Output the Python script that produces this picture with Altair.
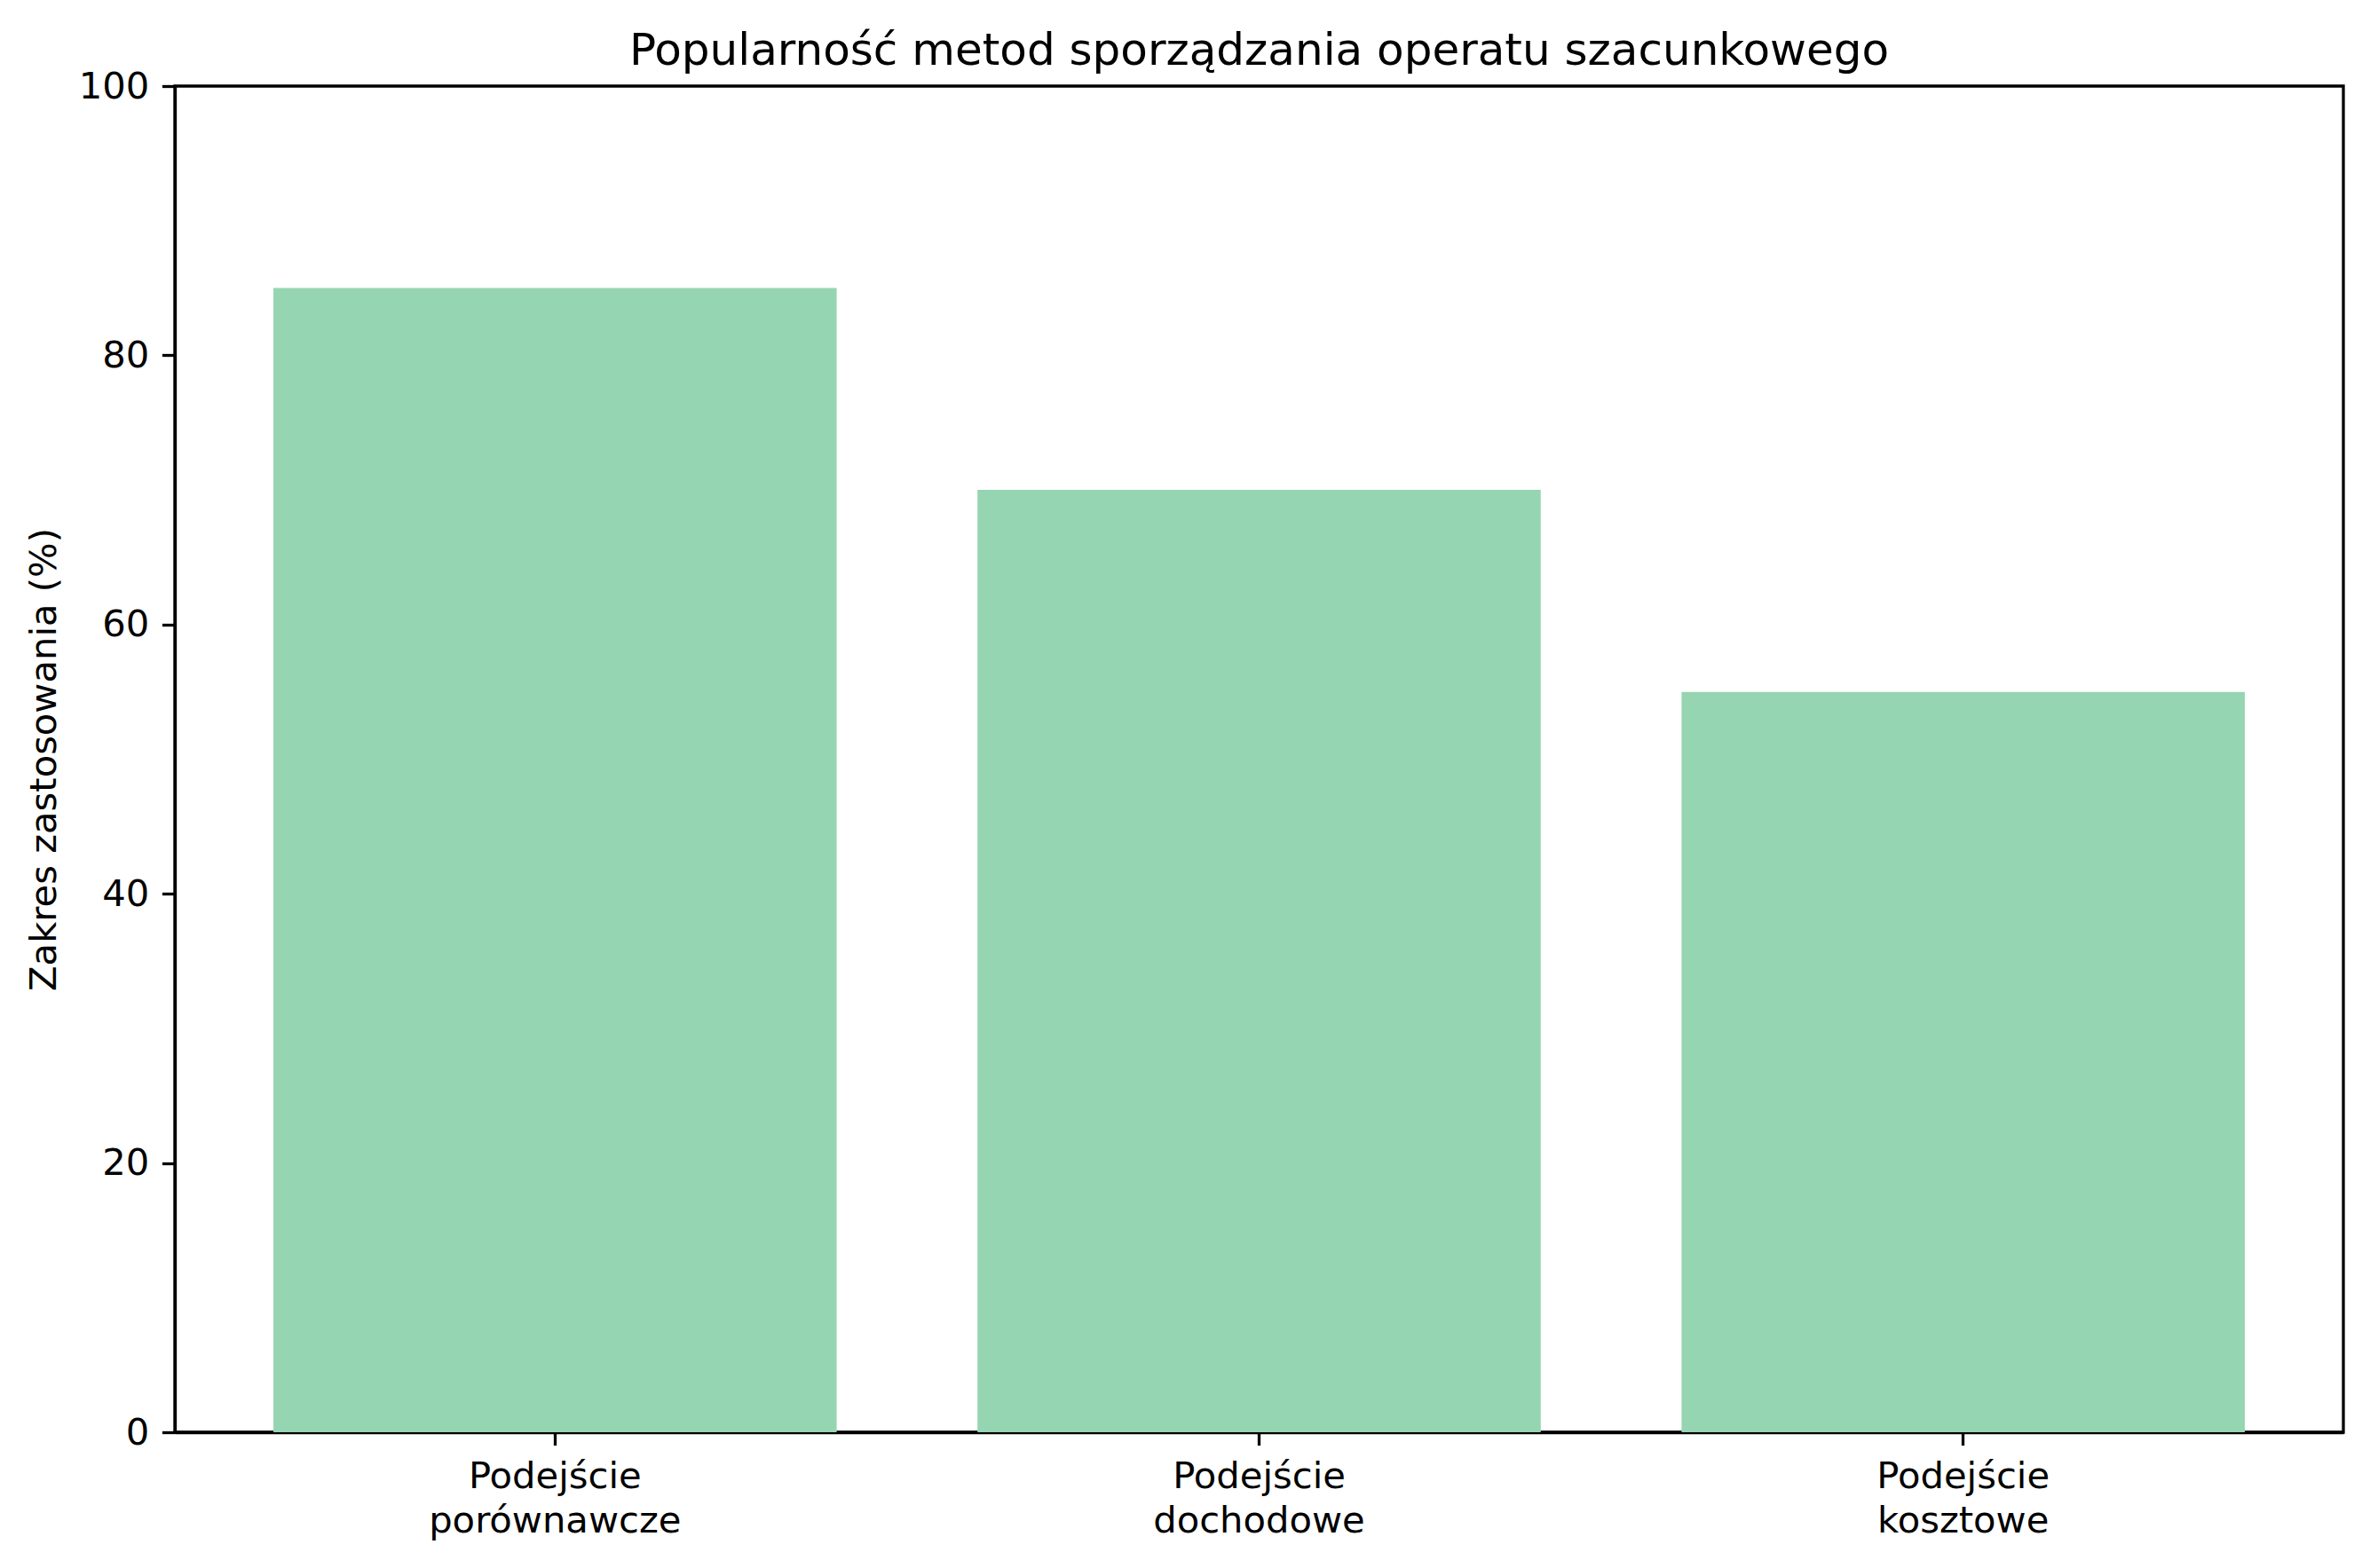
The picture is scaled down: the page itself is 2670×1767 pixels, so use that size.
import altair as alt
import pandas as pd

categories = ["Podejście\nporównawcze", "Podejście\ndochodowe", "Podejście\nkosztowe"]
values = [85, 70, 55]

df = pd.DataFrame({"metoda": categories, "zakres": values})

FONT = "DejaVu Sans"

chart = alt.Chart(df).mark_bar(color="#96D5B1").encode(
    x=alt.X("metoda:N", sort=categories,
            scale=alt.Scale(paddingInner=0.2, paddingOuter=0.14),
            axis=alt.Axis(title=None, labelAngle=0, labelExpr="split(datum.label, '\\n')",
                          labelFontSize=41.7, labelLineHeight=50, labelPadding=14.6, labelLimit=0,
                          labelBaseline="top", tickSize=14.6, tickWidth=3.3, tickColor="black",
                          domainColor="black", domainWidth=3.3, labelColor="black", labelFont=FONT)),
    y=alt.Y("zakres:Q", scale=alt.Scale(domain=[0, 100], nice=False),
            axis=alt.Axis(title="Zakres zastosowania (%)", values=[0, 20, 40, 60, 80, 100],
                          grid=False, labelFontSize=41.7, labelPadding=14.6, tickSize=14.6,
                          tickWidth=3.3, tickColor="black", domainColor="black", domainWidth=3.3,
                          labelColor="black", labelFont=FONT, titleFont=FONT, titleFontSize=41.7,
                          titleFontWeight="normal", titleColor="black", titlePadding=16.7)),
).properties(
    width=2443,
    height=1517,
    title=alt.TitleParams("Popularność metod sporządzania operatu szacunkowego",
                          font=FONT, fontSize=50, fontWeight="normal", color="black",
                          offset=25, dy=31),
    autosize=alt.AutoSizeParams(type="none"),
    padding={"left": 189, "top": 89, "right": 22, "bottom": 145},
).configure_view(stroke="black", strokeWidth=3.3)

chart.save("out.html", embed_options={"renderer": "svg", "actions": False})
